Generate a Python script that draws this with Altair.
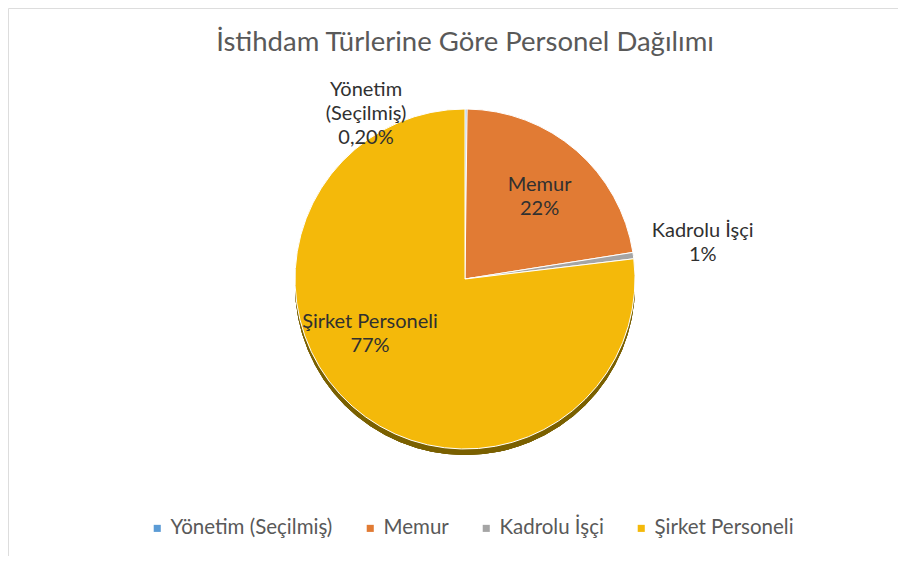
import altair as alt
import pandas as pd

# ---- data ----
categories = ["Yönetim (Seçilmiş)", "Memur", "Kadrolu İşçi", "Şirket Personeli"]
values = [0.2, 22.3, 0.6, 76.9]
label_texts = ["Yönetim\n(Seçilmiş)\n0,20%", "Memur\n22%", "Kadrolu İşçi\n1%", "Şirket Personeli\n77%"]
colors = ["#5B9BD5", "#E17B34", "#A5A5A5", "#F4B90A"]
title_text = "İstihdam Türlerine Göre Personel Dağılımı"

df = pd.DataFrame({
    "cat": categories,
    "value": values,
    "label": label_texts,
    "order": list(range(len(categories))),
})

W, H = 890, 548
CX, CY, R = 457, 271, 170
FONT = "Lato"

base = alt.Chart(df)
theta = alt.Theta("value:Q", stack=True)
order = alt.Order("order:Q")

shadow = base.mark_arc(radius=R, theta=0, theta2=6.2832, color="#7A6000").encode(
    x=alt.value(CX), y=alt.value(CY + 6)
)

pie = base.mark_arc(radius=R, stroke="white", strokeWidth=1).encode(
    theta=theta,
    order=order,
    x=alt.value(CX),
    y=alt.value(CY),
    color=alt.Color(
        "cat:N",
        sort=categories,
        scale=alt.Scale(domain=categories, range=colors),
        legend=alt.Legend(
            title=None,
            orient="none",
            direction="horizontal",
            legendX=139,
            legendY=510,
            symbolType="square",
            symbolSize=50,
            symbolStrokeWidth=0,
            labelFont=FONT,
            labelFontSize=20.5,
            labelColor="#595959",
            labelOffset=3,
            labelLimit=400,
            columnPadding=27,
            padding=0,
        ),
    ),
)

# label placement per category: (radius, dx, dy)
label_place = {
    "Yönetim (Seçilmiş)": (165, -100, -24),
    "Memur": (111, 2, -10),
    "Kadrolu İşçi": (240, 0, -15),
    "Şirket Personeli": (110, -22, -39),
}

label_layers = []
for cat, (rad, ddx, ddy) in label_place.items():
    label_layers.append(
        base.mark_text(
            radius=rad, dx=ddx, dy=ddy, font=FONT, fontSize=20, color="#303030",
            lineBreak="\n", lineHeight=24, align="center", baseline="middle",
        ).encode(
            theta=theta,
            order=order,
            x=alt.value(CX),
            y=alt.value(CY),
            text=alt.condition(alt.datum.cat == cat, alt.Text("label:N"), alt.value("")),
        )
    )

title = alt.Chart(pd.DataFrame({"t": [title_text]})).mark_text(
    font=FONT, fontSize=27.5, color="#595959", align="center", baseline="alphabetic"
).encode(text="t:N", x=alt.value(457), y=alt.value(43))

chart = alt.layer(shadow, pie, *label_layers, title).properties(
    width=W, height=H, autosize="none", padding=0
).configure_view(
    stroke="#D9D9D9", strokeWidth=1.5, cornerRadius=2
).configure(background="white")

chart.save("out.html", embed_options={"renderer": "svg", "actions": False})
